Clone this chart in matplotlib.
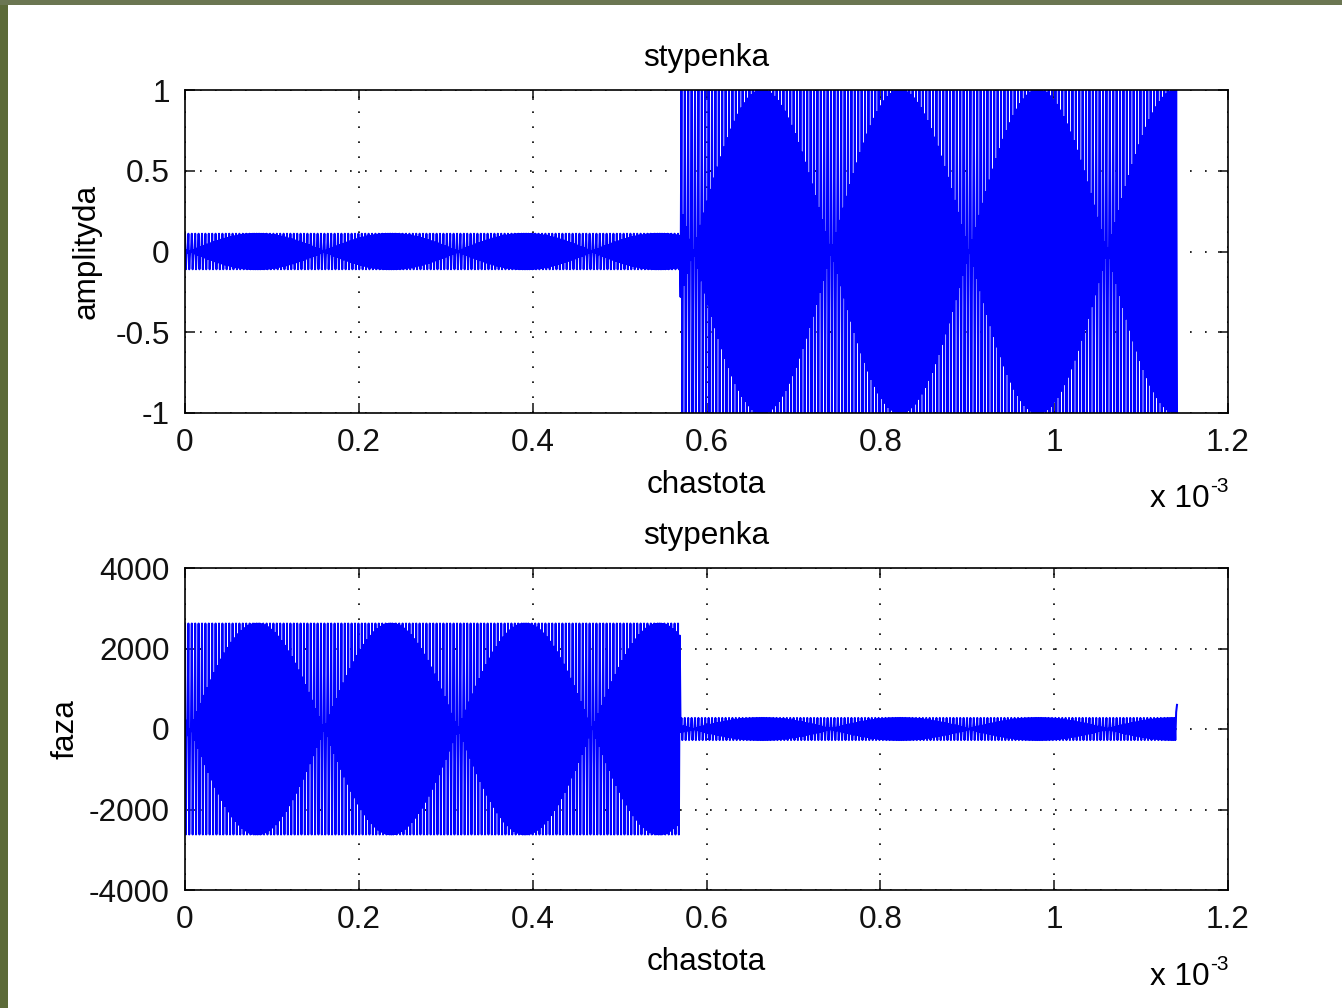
import numpy as np
import matplotlib
matplotlib.use("Agg")
import matplotlib.pyplot as plt
from matplotlib.patches import Rectangle
from matplotlib.ticker import FixedLocator, FuncFormatter

plt.rcParams["path.simplify"] = False
plt.rcParams["agg.path.chunksize"] = 0

# ---------------- data (time axis in seconds) ----------------
seg_edges = [0.0, 0.570e-3, 1.1416e-3]          # step boundaries
sample_step = 9.78e-7                            # sampling interval
amp_top = [0.11, 1.0]                            # amplitude per step segment
amp_bottom = [2620.0, 275.0]                     # phase amplitude per step segment
lobe_period = [0.1542e-3, 0.1588e-3]             # beat lobe length per segment
lobe_center_top = [0.0829e-3, 0.6640e-3]         # first lobe centre per segment
lobe_center_bottom = [0.0829e-3, 0.6640e-3]
tail_values = [420.0, 600.0]                     # last samples of the phase trace

x_ticks = [0, 0.2e-3, 0.4e-3, 0.6e-3, 0.8e-3, 1.0e-3, 1.2e-3]
y_ticks_top = [-1, -0.5, 0, 0.5, 1]
y_ticks_bottom = [-4000, -2000, 0, 2000, 4000]


def step_signal(amps, centers):
    t = np.arange(seg_edges[0], seg_edges[-1], sample_step)
    n = np.arange(t.size)
    seg = np.searchsorted(seg_edges[1:-1], t, side="right")
    a = np.asarray(amps)[seg]
    T = np.asarray(lobe_period)[seg]
    c = np.asarray(centers)[seg]
    e = np.abs(np.cos(np.pi * (t - c) / T))          # beat envelope
    level = np.where((n // 2) % 2 == 0, 1.0, e)
    y = a * level * np.where(n % 2 == 0, 1.0, -1.0)
    return t, y


t1, y1 = step_signal(amp_top, lobe_center_top)
t2, y2 = step_signal(amp_bottom, lobe_center_bottom)
y2[-len(tail_values):] = tail_values

# ---------------- figure ----------------
W, H = 1342, 1008
fig = plt.figure(figsize=(W / 100, H / 100), dpi=100)
fig.patch.set_facecolor("white")
fig.patches.append(Rectangle((0, 0), 8 / W, 1, transform=fig.transFigure,
                             facecolor="#5c6a38", edgecolor="none", zorder=0))
fig.patches.append(Rectangle((0, 1 - 5 / H), 1, 5 / H, transform=fig.transFigure,
                             facecolor="#6b7652", edgecolor="none", zorder=0))

plt.rcParams["font.family"] = ["Liberation Sans", "DejaVu Sans"]
FS = 22.7

ax1 = fig.add_axes([185 / W, 1 - 413 / H, 1043 / W, 323 / H])
ax2 = fig.add_axes([185 / W, 1 - 890 / H, 1043 / W, 322 / H])

xfmt = FuncFormatter(lambda v, p: ("%g" % round(v * 1e3, 6)))

for ax, t, y, yt, ylab, ylx in [(ax1, t1, y1, y_ticks_top, "amplityda", -0.080),
                                (ax2, t2, y2, y_ticks_bottom, "faza", -0.100)]:
    ax.plot(t, y, color=(0, 0, 1), lw=1.45, antialiased=True)
    ax.set_xlim(x_ticks[0], x_ticks[-1])
    ax.set_ylim(yt[0], yt[-1])
    ax.xaxis.set_major_locator(FixedLocator(x_ticks))
    ax.yaxis.set_major_locator(FixedLocator(yt))
    ax.xaxis.set_major_formatter(xfmt)
    ax.yaxis.set_major_formatter(FuncFormatter(lambda v, p: "%g" % v))
    ax.grid(True, color="black", linestyle=(0, (1, 8)), linewidth=1.2)
    ax.tick_params(direction="in", length=7, width=1.1, top=True, right=True,
                   labelsize=FS, pad=11, colors="#111111")
    for s in ax.spines.values():
        s.set_linewidth(1.2)
    ax.set_title("stypenka", fontsize=FS, pad=17)
    ax.set_xlabel("chastota", fontsize=FS)
    ax.xaxis.set_label_coords(0.5, -0.178)
    ax.set_ylabel(ylab, fontsize=FS)
    ax.yaxis.set_label_coords(ylx, 0.5)

for base in (507, 985):
    fig.text(1210 / W, 1 - base / H, "x 10", fontsize=FS, ha="right", va="baseline")
    fig.text(1229 / W, 1 - (base - 15) / H, "-3", fontsize=15, ha="right", va="baseline")

fig.savefig("out.png", dpi=100, facecolor="white")
